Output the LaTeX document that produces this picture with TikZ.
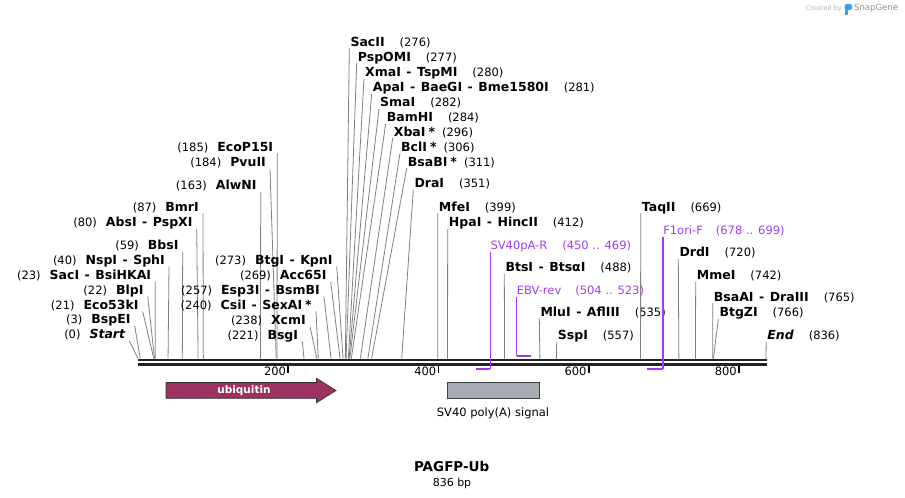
\documentclass[tikz,border=0pt]{standalone}
\usepackage{fontspec}
\setmainfont{DejaVu Sans}

\definecolor{cutgray}{RGB}{128,128,128}
\definecolor{primer}{RGB}{160,60,240}
\definecolor{ubq}{RGB}{155,50,95}
\definecolor{polya}{RGB}{165,171,178}
\definecolor{bbone}{RGB}{35,35,35}
\definecolor{sgblue}{RGB}{60,160,235}

\newcommand\enzname[1]{{\fontsize{12.5}{14}\selectfont\bfseries #1}}
\newcommand\enzpos[1]{{\fontsize{11.5}{14}\selectfont(#1)}}
\newcommand\dsh{\hspace{5.5pt}-\hspace{5.5pt}}
\newcommand\enzstar{\hspace{3pt}*\hspace{-8pt}}
\newcommand\sx[1]{138+0.7512*(#1)}

\tikzset{
  lft/.style={anchor=south east, inner xsep=4pt, inner ysep=0pt, text depth=2pt},
  rgt/.style={anchor=south west, inner xsep=1pt, inner ysep=0pt, text depth=2pt},
  cut/.style={draw=cutgray, line width=0.8pt},
  prmlbl/.style={anchor=south west, inner sep=0pt, text depth=2pt, text=primer,
    font=\fontsize{11.5}{14}\selectfont},
  prm/.style={draw=primer, line width=1.3pt},
  prmbar/.style={draw=primer, line width=2pt},
  bb/.style={draw=bbone, line width=2.4pt},
  tick/.style={draw=black, line width=1.6pt},
  txt/.style={inner sep=0pt, font=\fontsize{11.5}{14}\selectfont}
}

\begin{document}
\begin{tikzpicture}[x=1pt,y=-1pt]
  \useasboundingbox (0,0) rectangle (905,498);

  \node[anchor=base east, inner sep=0pt, text=black!30, font=\fontsize{6.5}{8}\selectfont]
    (made) at (842,10.5) {Created by};
  \fill[sgblue, rounded corners=1.5pt] (844.5,4) rectangle (852,10);
  \fill[sgblue] (844.5,6) rectangle (847.5,15);
  \node[anchor=base west, inner sep=0pt, text=black!45, font=\fontsize{8.5}{10}\selectfont]
    (sg) at (854,10.5) {SnapGene};

  % backbone
  \coordinate (bbL) at (138,360);
  \coordinate (bbR) at (766.5,360);
  \draw[bb] (bbL) -- (bbR);
  \draw[bb] ([yshift=-4.3pt]bbL) -- ([yshift=-4.3pt]bbR);

  \foreach \t in {200,400,600,800} {
    \draw[tick] ({\sx{\t}},365.5) -- ({\sx{\t}},372.5);
    \node[txt, anchor=base east] (t\t) at ({\sx{\t}-2},375.7) {\t};
  }

  % sites, number left of name
  \foreach \nm/\ps/\xx/\yy/\tx in {
    bmr/87/203/213.2/BmrI,
    abs/80/196.7/228.8/{AbsI\dsh PspXI},
    bbs/59/182.7/251.5/BbsI,
    nsp/40/169/266.5/{NspI\dsh SphI},
    sac/23/155.3/281.5/{SacI\dsh BsiHKAI},
    blp/22/147.7/296.5/BlpI,
    eco/21/142.7/311.5/Eco53kI,
    bsp/3/134.7/325.8/BspEI,
    start/0/129.3/340.8/{\itshape Start},
    ecop/185/277.3/153.2/EcoP15I,
    pvu/184/270/168.8/PvuII,
    alw/163/260.7/191.5/AlwNI,
    btg/273/336.7/266.5/{BtgI\dsh KpnI},
    acc/269/330.7/281.8/Acc65I,
    esp/257/324/296.8/{Esp3I\dsh BsmBI},
    csi/240/316/311.2/{CsiI\dsh SexAI\hspace{3pt}*},
    xcm/238/310/326.5/XcmI,
    bsg/221/302.3/341.5/BsgI} {
    \coordinate (s\nm) at ({\sx{\ps}},358.5);
    \node[lft] (\nm) at (\xx,\yy) {\enzpos{\ps}\hspace{9pt}\enzname{\tx}};
    \draw[cut] (\nm.south east) -- (s\nm);
  }

  % sites, name left of number
  \foreach \nm/\ps/\xx/\yy/\tx in {
    sacii/276/349.3/48.2/SacII,
    pspo/277/356.7/63.2/PspOMI,
    xma/280/364/78.8/{XmaI\dsh TspMI},
    apa/281/371.7/93.8/{ApaI\dsh BaeGI\dsh Bme1580I},
    sma/282/379/108.8/SmaI,
    bam/284/385.7/123.8/BamHI,
    xba/296/392.7/138.2/{XbaI\enzstar},
    bcl/306/400/153.2/{BclI\enzstar},
    bsab/311/406.7/168.2/{BsaBI\enzstar},
    dra/351/413.3/189.8/DraI,
    mfe/399/437.7/213.2/MfeI,
    hpa/412/447.7/228.8/{HpaI\dsh HincII},
    bts/488/504.3/273.8/{BtsI\dsh BtsαI},
    mlu/535/539.3/318.2/{MluI\dsh AflIII},
    ssp/557/556.7/341.5/SspI,
    taq/669/640.7/213.2/TaqII,
    drd/720/678.3/258.8/DrdI,
    mme/742/695.7/281.5/MmeI,
    bsaa/765/712.7/303.2/{BsaAI\dsh DraIII},
    btgz/766/718.3/318.8/BtgZI,
    endp/836/766.2/341.5/{\itshape End}} {
    \coordinate (s\nm) at ({\sx{\ps}},358.5);
    \node[rgt] (\nm) at (\xx,\yy) {\enzname{\tx}\hspace{15pt}\enzpos{\ps}};
    \draw[cut] (\nm.south west) -- (s\nm);
  }

  % primers
  \coordinate (p450) at ({\sx{450}},368.5);
  \coordinate (p469) at ({\sx{469}},368.5);
  \node[prmlbl] (svr) at ({\sx{469}},251.5) {SV40pA-R\hspace{15pt}(450 .. 469)};
  \draw[prm] (svr.south west) -- (p469);
  \draw[prmbar] (p450) -- (p469);

  \coordinate (p504) at ({\sx{504}},355.7);
  \coordinate (p523) at ({\sx{523}},355.7);
  \node[prmlbl] (ebv) at ({\sx{504}},296.5) {EBV-rev\hspace{14pt}(504 .. 523)};
  \draw[prm] (ebv.south west) -- (p504);
  \draw[prmbar] (p504) -- (p523);

  \coordinate (p678) at ({\sx{678}},368.5);
  \coordinate (p699) at ({\sx{699}},368.5);
  \node[prmlbl] (f1) at ({\sx{699}},236.5) {F1ori-F\hspace{13pt}(678 .. 699)};
  \draw[prm] (f1.south west) -- (p699);
  \draw[prmbar] (p678) -- (p699);

  % features
  \draw[fill=ubq, draw=black!80, line width=0.7pt]
    (166,382.5) -- (316.5,382.5) -- (316.5,378.3) -- (336,390.5)
    -- (316.5,402.7) -- (316.5,398.3) -- (166,398.3) -- cycle;
  \node[anchor=base, inner sep=0pt, text=white, font=\fontsize{10.5}{12}\selectfont\bfseries]
    (ubi) at (244,393.8) {ubiquitin};

  \node[draw=black!75, fill=polya, line width=0.7pt, minimum width=92pt, minimum height=16pt,
    inner sep=0pt] (pa) at (493,390.2) {};
  \node[txt, anchor=base] (palbl) at (493,416) {SV40 poly(A) signal};

  \node[anchor=base, inner sep=0pt, font=\fontsize{13.5}{16}\selectfont\bfseries]
    (title) at (451.7,471.7) {PAGFP-Ub};
  \node[anchor=base, inner sep=0pt, font=\fontsize{11}{13}\selectfont]
    (len) at (452,486.7) {836 bp};
\end{tikzpicture}
\end{document}
